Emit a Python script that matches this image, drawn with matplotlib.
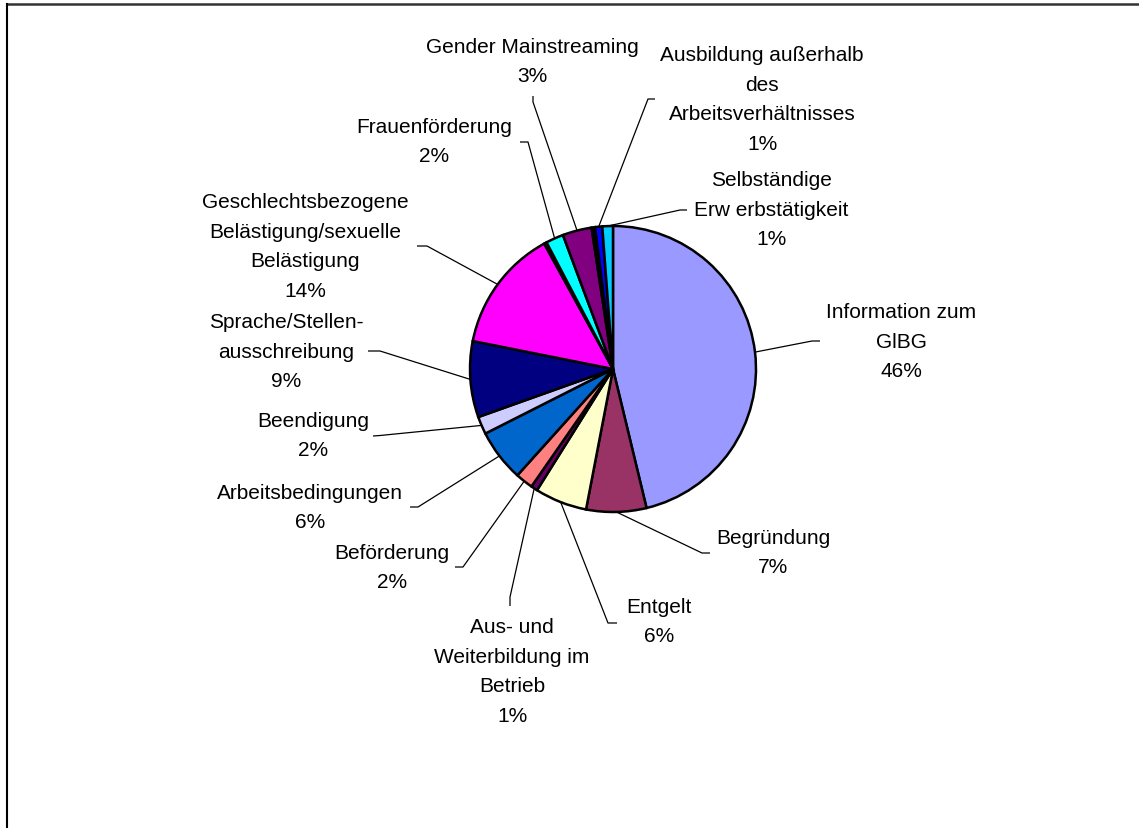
import numpy as np
import matplotlib
matplotlib.use("Agg")
import matplotlib.pyplot as plt
from matplotlib.lines import Line2D

plt.rcParams['font.family'] = ['Liberation Sans', 'DejaVu Sans']

# ---- data (clockwise from 12 o'clock) ----
categories = [
    "Information zum\nGlBG",
    "Begründung",
    "Entgelt",
    "Aus- und\nWeiterbildung im\nBetrieb",
    "Beförderung",
    "Arbeitsbedingungen",
    "Beendigung",
    "Sprache/Stellen-\nausschreibung",
    "Geschlechtsbezogene\nBelästigung/sexuelle\nBelästigung",
    "",
    "Frauenförderung",
    "Gender Mainstreaming",
    "",
    "Ausbildung außerhalb\ndes\nArbeitsverhältnisses",
    "Selbständige\nErw erbstätigkeit",
]
values = [46.3, 6.8, 5.9, 0.75, 2.0, 5.9, 2.0, 8.6, 13.9, 0.3, 2.0, 3.3, 0.4, 0.8, 1.2]
colors = ["#9999FF", "#993366", "#FFFFCC", "#660066", "#FF8080", "#0066CC",
          "#CCCCFF", "#000080", "#FF00FF", "#FFCC00", "#00FFFF", "#800080",
          "#000000", "#0000FF", "#00CCFF"]

# ---- layout (pixel coordinates, y from top) ----
W, H = 1139, 829
center_px = (613, 370)
radius_px = 143
label_pos = [(901, 342), (773, 553), (659, 622), (512, 672), (392, 568),
             (310, 508), (313, 436), (286, 352), (305, 247), None,
             (434, 142), (532, 62), None, (762, 100), (771, 210)]
elbows = [((812, 342), (820, 342)), ((702, 554), (710, 554)),
          ((608, 624), (617, 624)), ((510, 598), (510, 607)),
          ((463, 568), (455, 568)), ((418, 508), (410, 508)),
          ((380, 436.5), (373, 437)), ((380, 352), (368, 352)),
          ((427, 247), (417, 247)), None,
          ((528, 143), (520, 143)), ((533, 103), (533, 97)), None,
          ((648, 100), (655, 100)), ((680, 211), (687, 211))]

fig = plt.figure(figsize=(W / 100, H / 100), dpi=100)
ax = fig.add_axes([0, 0, 1, 1])
ax.set_xlim(0, W)
ax.set_ylim(0, H)
ax.set_aspect('equal')
ax.axis('off')

def py(y):
    return H - y

wedges, _ = ax.pie(values, colors=colors, startangle=90, counterclock=False,
                   center=(center_px[0], py(center_px[1])), radius=radius_px,
                   wedgeprops=dict(edgecolor='black', linewidth=1.8))
ax.set_xlim(0, W)
ax.set_ylim(0, H)

total = sum(values)
for i, w in enumerate(wedges):
    if not categories[i]:
        continue
    pct = f"{round(values[i] / total * 100):.0f}%"
    lx, ly = label_pos[i]
    ax.text(lx, py(ly), categories[i] + "\n" + pct, ha='center', va='center',
            fontsize=15, linespacing=1.72, color='black')
    mid = np.deg2rad((w.theta1 + w.theta2) / 2)
    sx = w.center[0] + w.r * np.cos(mid)
    sy = w.center[1] + w.r * np.sin(mid)
    (ex, ey), (fx, fy) = elbows[i]
    ax.plot([sx, ex, fx], [sy, py(ey), py(fy)], color='black', lw=0.9,
            solid_capstyle='butt', zorder=0)

# frame (top and left borders)
fig.add_artist(Line2D([7 / W, 1], [1 - 4.5 / H, 1 - 4.5 / H],
                      transform=fig.transFigure, color='#333333', lw=1.8))
fig.add_artist(Line2D([7 / W, 7 / W], [0, 1 - 4.5 / H],
                      transform=fig.transFigure, color='black', lw=1.5))

fig.savefig("out.png", dpi=100, facecolor='white')
